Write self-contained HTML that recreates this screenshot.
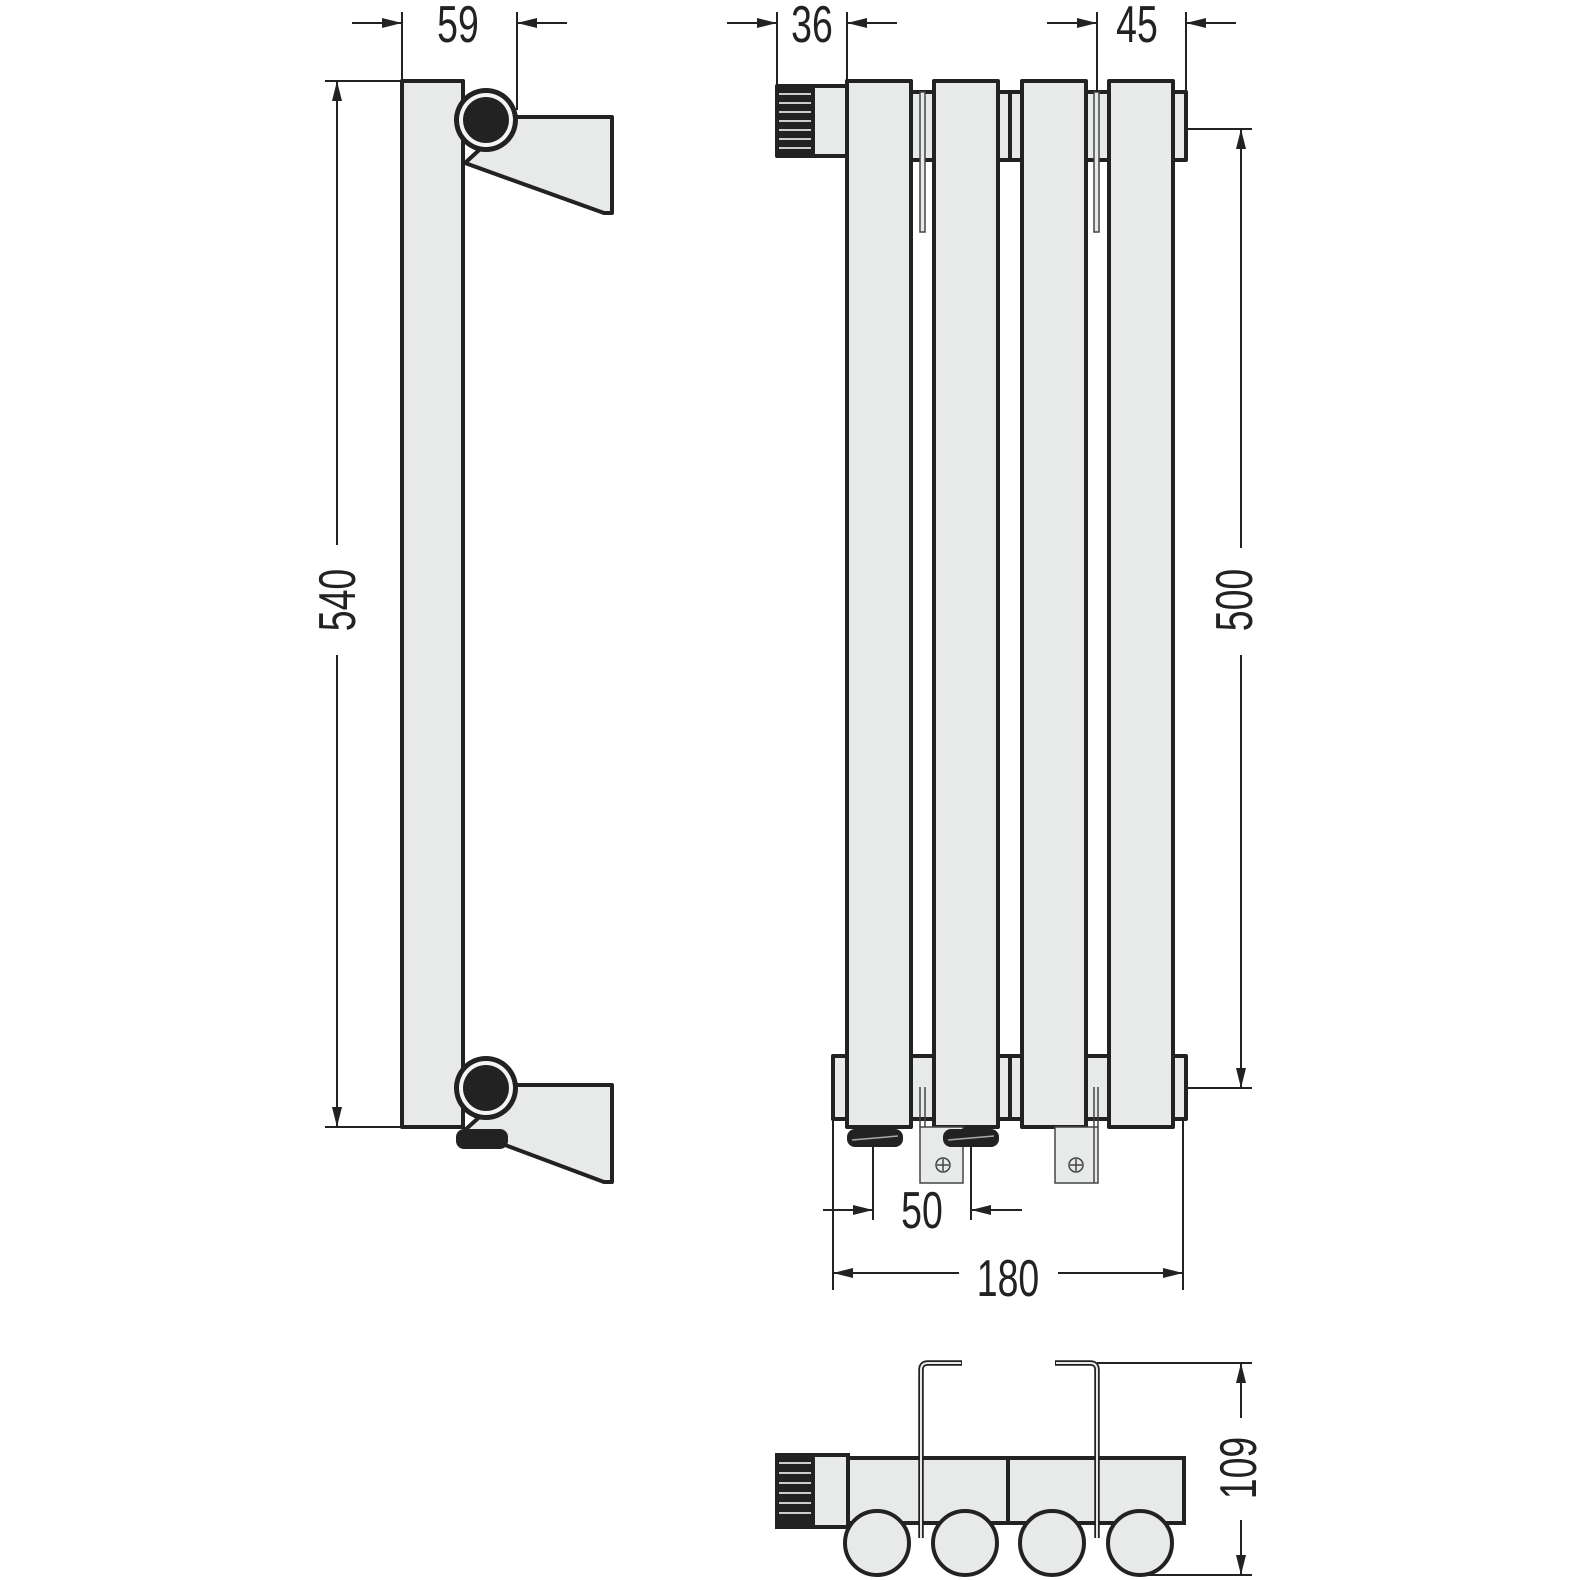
<!DOCTYPE html>
<html><head><meta charset="utf-8"><style>html,body{margin:0;padding:0;background:#fff}svg{display:block}</style></head>
<body>
<svg width="1580" height="1580" viewBox="0 0 1580 1580" xmlns="http://www.w3.org/2000/svg">
<defs>
<marker id="a" viewBox="0 0 20 10" refX="20" refY="5" markerWidth="20" markerHeight="10" markerUnits="userSpaceOnUse" orient="auto"><path d="M0,0 L20,5 L0,10 z" fill="#222"/></marker>
</defs>
<g fill="#e8eaea" stroke="#222" stroke-width="4" stroke-linejoin="round">
<!-- LEFT VIEW -->
<rect x="402" y="81" width="61" height="1046"/>
<polygon points="515,117 612,117 612,213 604,213 465,163"/>
<polygon points="515,1085 612,1085 612,1182 604,1182 465,1130"/>
<rect x="458" y="1131" width="48" height="16" rx="6" fill="#222"/>
<circle cx="486" cy="120" r="32" fill="#222" stroke="none"/>
<circle cx="486" cy="120" r="27" fill="#f4f4f4" stroke="none"/>
<circle cx="486" cy="120" r="23" fill="#222" stroke="none"/>
<circle cx="486" cy="1088" r="32" fill="#222" stroke="none"/>
<circle cx="486" cy="1088" r="27" fill="#f4f4f4" stroke="none"/>
<circle cx="486" cy="1088" r="23" fill="#222" stroke="none"/>

<!-- RIGHT VIEW top header -->
<rect x="909" y="92" width="27" height="68"/>
<rect x="996" y="92" width="28" height="68"/>
<rect x="1085" y="92" width="27" height="68"/>
<rect x="1172" y="92" width="14" height="68"/>
<line x1="1010" y1="92" x2="1010" y2="160"/>
<!-- bottom header -->
<rect x="833" y="1056" width="353" height="63"/>
<line x1="1010" y1="1056" x2="1010" y2="1119"/>
<!-- valve -->
<rect x="777" y="86" width="72" height="70"/>
<rect x="777" y="86" width="36" height="70" rx="3" fill="#222"/>
<!-- tubes -->
<rect x="847" y="81" width="64" height="1046"/>
<rect x="934" y="81" width="64" height="1046"/>
<rect x="1022" y="81" width="64" height="1046"/>
<rect x="1109" y="81" width="64" height="1046"/>
</g>
<g stroke="#ccc" stroke-width="2">
<line x1="779" y1="94" x2="811" y2="94"/><line x1="779" y1="103" x2="811" y2="103"/><line x1="779" y1="112" x2="811" y2="112"/><line x1="779" y1="121" x2="811" y2="121"/><line x1="779" y1="130" x2="811" y2="130"/><line x1="779" y1="139" x2="811" y2="139"/><line x1="779" y1="148" x2="811" y2="148"/>
</g>
<!-- top brackets thin -->
<g fill="#e8eaea" stroke="#444" stroke-width="1.5">
<rect x="920" y="92" width="5" height="140"/>
<rect x="1094" y="92" width="5" height="140"/>
<!-- bottom brackets -->
<rect x="920" y="1127" width="43" height="56"/>
<line x1="920" y1="1087" x2="920" y2="1127"/><line x1="925" y1="1087" x2="925" y2="1127"/>
<rect x="1055" y="1127" width="43" height="56"/>
<line x1="1094" y1="1087" x2="1094" y2="1183"/><line x1="1098" y1="1087" x2="1098" y2="1127"/>
<circle cx="943" cy="1165" r="7" fill="none"/><path d="M937,1165h12M943,1159v12"/>
<circle cx="1076" cy="1165" r="7" fill="none"/><path d="M1070,1165h12M1076,1159v12"/>
</g>
<g fill="#222">
<rect x="847" y="1129" width="56" height="18" rx="8"/>
<rect x="943" y="1129" width="56" height="18" rx="8"/>
</g>
<g stroke="#aaa" stroke-width="1.5"><line x1="852" y1="1140" x2="898" y2="1136"/><line x1="948" y1="1140" x2="994" y2="1136"/></g>

<!-- BOTTOM VIEW -->
<g fill="#e8eaea" stroke="#222" stroke-width="4">
<rect x="847" y="1458" width="337" height="65"/>
<line x1="1008" y1="1458" x2="1008" y2="1523"/>
<rect x="777" y="1455" width="71" height="72"/>
<rect x="777" y="1455" width="36" height="72" rx="3" fill="#222"/>
<circle cx="877" cy="1543" r="32"/><circle cx="965" cy="1543" r="32"/><circle cx="1052" cy="1543" r="32"/><circle cx="1140" cy="1543" r="32"/>
</g>
<g stroke="#ccc" stroke-width="2">
<line x1="779" y1="1463" x2="811" y2="1463"/><line x1="779" y1="1473" x2="811" y2="1473"/><line x1="779" y1="1483" x2="811" y2="1483"/><line x1="779" y1="1493" x2="811" y2="1493"/><line x1="779" y1="1503" x2="811" y2="1503"/><line x1="779" y1="1513" x2="811" y2="1513"/>
</g>
<g fill="none" stroke="#222" stroke-width="5.5" stroke-linejoin="round"><path d="M921,1538 V1370 Q921,1363 928,1363 H962"/><path d="M1097,1538 V1370 Q1097,1363 1090,1363 H1055"/></g>
<g fill="none" stroke="#e8eaea" stroke-width="2" stroke-linejoin="round"><path d="M921,1538 V1370 Q921,1363 928,1363 H961"/><path d="M1097,1538 V1370 Q1097,1363 1090,1363 H1056"/></g>

<!-- DIMENSIONS -->
<g stroke="#222" stroke-width="2" fill="none">
<line x1="402" y1="12" x2="402" y2="81"/><line x1="517" y1="12" x2="517" y2="110"/>
<line x1="352" y1="23" x2="402" y2="23" marker-end="url(#a)"/><line x1="567" y1="23" x2="517" y2="23" marker-end="url(#a)"/>
<line x1="325" y1="81" x2="402" y2="81"/><line x1="325" y1="1127" x2="402" y2="1127"/>
<line x1="337" y1="545" x2="337" y2="81" marker-end="url(#a)"/><line x1="337" y1="655" x2="337" y2="1127" marker-end="url(#a)"/>
<line x1="777" y1="12" x2="777" y2="86"/><line x1="847" y1="12" x2="847" y2="81"/>
<line x1="727" y1="23" x2="777" y2="23" marker-end="url(#a)"/><line x1="897" y1="23" x2="847" y2="23" marker-end="url(#a)"/>
<line x1="1097" y1="12" x2="1097" y2="92"/><line x1="1186" y1="12" x2="1186" y2="92"/>
<line x1="1047" y1="23" x2="1097" y2="23" marker-end="url(#a)"/><line x1="1236" y1="23" x2="1186" y2="23" marker-end="url(#a)"/>
<line x1="1186" y1="129" x2="1252" y2="129"/><line x1="1186" y1="1088" x2="1252" y2="1088"/>
<line x1="1241" y1="548" x2="1241" y2="129" marker-end="url(#a)"/><line x1="1241" y1="655" x2="1241" y2="1088" marker-end="url(#a)"/>
<line x1="873" y1="1147" x2="873" y2="1220"/><line x1="971" y1="1147" x2="971" y2="1220"/>
<line x1="823" y1="1210" x2="873" y2="1210" marker-end="url(#a)"/><line x1="1022" y1="1210" x2="971" y2="1210" marker-end="url(#a)"/>
<line x1="833" y1="1119" x2="833" y2="1290"/><line x1="1183" y1="1119" x2="1183" y2="1290"/>
<line x1="959" y1="1273" x2="833" y2="1273" marker-end="url(#a)"/><line x1="1058" y1="1273" x2="1183" y2="1273" marker-end="url(#a)"/>
<line x1="1097" y1="1363" x2="1252" y2="1363"/><line x1="1140" y1="1575" x2="1252" y2="1575"/>
<line x1="1241" y1="1418" x2="1241" y2="1363" marker-end="url(#a)"/><line x1="1241" y1="1520" x2="1241" y2="1575" marker-end="url(#a)"/>
</g>
<g font-family="Liberation Sans, sans-serif" font-size="52" fill="#222" text-anchor="middle">
<text transform="translate(458,42) scale(0.72,1)">59</text>
<text transform="translate(812,42) scale(0.72,1)">36</text>
<text transform="translate(1137,42) scale(0.72,1)">45</text>
<text transform="translate(922,1228) scale(0.72,1)">50</text>
<text transform="translate(1008,1296) scale(0.72,1)">180</text>
<text transform="translate(355,600) rotate(-90) scale(0.72,1)">540</text>
<text transform="translate(1252,600) rotate(-90) scale(0.72,1)">500</text>
<text transform="translate(1256,1468) rotate(-90) scale(0.72,1)">109</text>
</g>
</svg>
</body></html>
